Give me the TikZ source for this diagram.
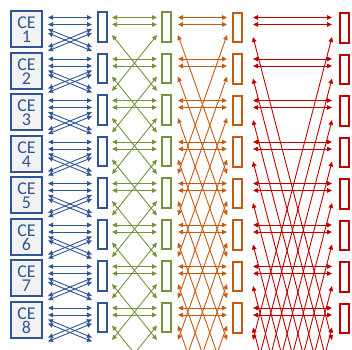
\documentclass[tikz,border=0pt]{standalone}
\usepackage{fontspec}
\setmainfont{Carlito}
\usetikzlibrary{arrows.meta}
\definecolor{ceblue}{HTML}{2F5597}
\definecolor{cegreen}{HTML}{76923C}
\definecolor{ceorange}{HTML}{C55A11}
\definecolor{cered}{HTML}{C00000}
\definecolor{cefill}{HTML}{F2F2F2}
\tikzset{
  >={Triangle[length=5pt,width=4.5pt]},
  cebox/.style={draw=ceblue, fill=cefill, line width=2pt, minimum width=31pt, minimum height=36pt, inner sep=0pt},
  cetext/.style={text=ceblue, font=\fontsize{18}{18}\selectfont, inner sep=0pt, anchor=base},
  portbox/.style={draw=#1, fill=white, line width=2pt, minimum width=9pt, minimum height=29.5pt, inner sep=0pt},
  link/.style={draw=#1, line width=0.9pt, <->},
}
\newcommand\linkstage[6]{% #1 prefix, #2 colour, #3 xl, #4 xr, #5 span in rows, #6 start offset
  \foreach \r in {0,...,7} {
    \pgfmathsetmacro\T{10+41.5*\r}
    \pgfmathsetmacro\E{10+41.5*(\r+#5)-2}
    \coordinate (#1\r-a) at (#3,\T+7.5);
    \coordinate (#1\r-b) at (#4,\T+7.5);
    \coordinate (#1\r-c) at (#3,\T+14.5);
    \coordinate (#1\r-d) at (#4,\T+14.5);
    \coordinate (#1\r-e) at (#3,\T+#6);
    \coordinate (#1\r-f) at (#4,\T+#6);
    \coordinate (#1\r-g) at (#3,\E);
    \coordinate (#1\r-h) at (#4,\E);
    \draw[link=#2] (#1\r-a) -- (#1\r-b);
    \draw[link=#2] (#1\r-c) -- (#1\r-d);
    \draw[link=#2] (#1\r-e) -- (#1\r-h);
    \draw[link=#2] (#1\r-f) -- (#1\r-g);
  }
}
\begin{document}
\begin{tikzpicture}[x=1pt,y=-1pt]
\useasboundingbox (0,0) rectangle (352,349);
\begin{scope}
\clip (0,0) rectangle (352,349);
% blue stage: horizontals and double crossings to the next row
\foreach \r in {0,...,7} {
  \pgfmathsetmacro\T{10+41.5*\r}
  \coordinate (b\r-a) at (48,\T+7.5);
  \coordinate (b\r-b) at (92,\T+7.5);
  \coordinate (b\r-c) at (48,\T+14.5);
  \coordinate (b\r-d) at (92,\T+14.5);
  \coordinate (b\r-e) at (48,\T+19);
  \coordinate (b\r-f) at (92,\T+19);
  \coordinate (b\r-g) at (48,\T+23);
  \coordinate (b\r-h) at (92,\T+23);
  \coordinate (b\r-i) at (48,\T+37);
  \coordinate (b\r-j) at (92,\T+37);
  \coordinate (b\r-k) at (48,\T+41);
  \coordinate (b\r-l) at (92,\T+41);
  \draw[link=ceblue] (b\r-a) -- (b\r-b);
  \draw[link=ceblue] (b\r-c) -- (b\r-d);
  \draw[link=ceblue] (b\r-e) -- (b\r-j);
  \draw[link=ceblue] (b\r-g) -- (b\r-l);
  \draw[link=ceblue] (b\r-f) -- (b\r-i);
  \draw[link=ceblue] (b\r-h) -- (b\r-k);
}
\linkstage{g}{cegreen}{112}{157}{2}{25}
\linkstage{o}{ceorange}{178}{227}{4}{25}
\linkstage{q}{cered}{253}{332}{8}{27}
% boxes
\foreach \r in {0,...,7} {
  \pgfmathsetmacro\T{10+41.5*\r}
  \pgfmathtruncatemacro\n{\r+1}
  \node[cebox] (ce\r) at (26.5,\T+19) {};
  \node[cetext] (cet\r) at (26.5,\T+18.5) {CE};
  \node[cetext] (cen\r) at (26.5,\T+32.5) {\n};
  \node[portbox=ceblue] (pb\r) at (102.5,\T+16.75) {};
  \node[portbox=cegreen] (pg\r) at (166,\T+16.75) {};
  \node[portbox=ceorange] (po\r) at (237.5,\T+17.5) {};
  \node[portbox=cered] (pr\r) at (344.5,\T+18) {};
}
\end{scope}
\end{tikzpicture}
\end{document}
